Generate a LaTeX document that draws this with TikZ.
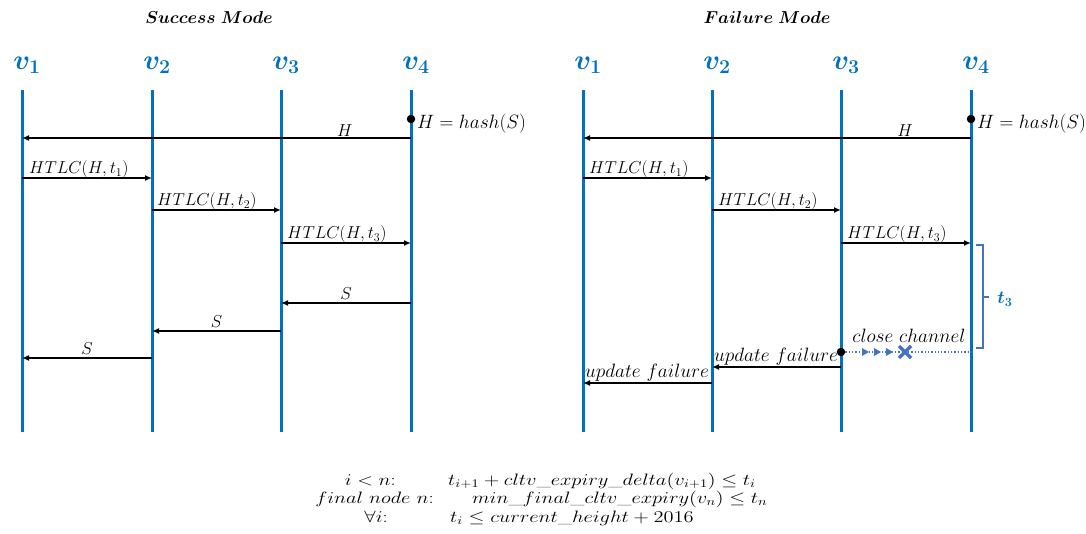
\RequirePackage{fix-cm}
\documentclass[tikz,border=0pt]{standalone}
\usepackage{amsmath,amssymb,bm,graphicx}
\usetikzlibrary{arrows.meta}
\definecolor{lifeblue}{RGB}{0,112,192}
\definecolor{softblue}{RGB}{68,114,196}
\newcommand{\wide}[1]{\scalebox{1.24}[1]{#1}}
\tikzset{
  life/.style={draw=lifeblue, line width=3pt},
  msg/.style={draw=black, line width=1.4pt, -{Latex[length=7pt,width=6pt]}},
  lbl/.style={font=\fontsize{17.28}{19}\selectfont, inner sep=1pt},
  lblw/.style={font=\fontsize{19.3}{21}\selectfont, inner sep=1pt},
  vlab/.style={text=lifeblue, font=\fontsize{28}{32}\selectfont, inner sep=0pt},
  ttl/.style={font=\fontsize{17.28}{20}\selectfont\boldmath, inner sep=0pt},
  fml/.style={font=\fontsize{16.5}{17}\selectfont, inner sep=0pt},
  dotn/.style={circle, fill=black, inner sep=0pt, minimum size=8.5pt},
}
\begin{document}
\begin{tikzpicture}[x=1pt, y=-1pt]
\useasboundingbox (0,0) rectangle (1086,533);
% titles
\node[ttl] (t1) at (209,17) {$Success\ Mode$};
\node[ttl] (t2) at (767,17) {$Failure\ Mode$};
% lifelines
\foreach \n/\x in {1/22,2/152,3/281,4/411}{
  \coordinate (La\n) at (\x,90);
  \coordinate (Lb\n) at (\x,432);
  \draw[life] (La\n) -- (Lb\n);
  \node[vlab] (Lv\n) at (\x+5,65) {$\bm{v}_{\bm{\n}}$};
}
\foreach \n/\x in {1/583,2/712,3/841,4/971}{
  \coordinate (Ra\n) at (\x,90);
  \coordinate (Rb\n) at (\x,432);
  \draw[life] (Ra\n) -- (Rb\n);
  \node[vlab] (Rv\n) at (\x+5,65) {$\bm{v}_{\bm{\n}}$};
}
% ---------- Success mode ----------
\node[dotn] (Ldot) at (411,119) {};
\node[lblw, anchor=west] (Lhash) at (416,124) {$H = hash(S)$};
\coordinate (LH4) at (411,138); \coordinate (LH1) at (22,138);
\draw[msg] (LH4) -- node[lbl, pos=0.17, above] (LHl) {$H$} (LH1);
\coordinate (LA1) at (22,178); \coordinate (LA2) at (152,178);
\draw[msg] (LA1) -- (LA2);
\node[lbl, anchor=south west] (LAl) at (28,179) {$HTLC(H,t_1)$};
\coordinate (LB2) at (152,210); \coordinate (LB3) at (281,210);
\draw[msg] (LB2) -- (LB3);
\node[lbl, anchor=south west] (LBl) at (156,211) {$HTLC(H,t_2)$};
\coordinate (LC3) at (281,243); \coordinate (LC4) at (411,243);
\draw[msg] (LC3) -- (LC4);
\node[lbl, anchor=south west] (LCl) at (286,244) {$HTLC(H,t_3)$};
\coordinate (LS4) at (411,303); \coordinate (LS3) at (281,303);
\draw[msg] (LS4) -- node[lbl, above=2pt] (LSa) {$S$} (LS3);
\coordinate (LT3) at (281,331); \coordinate (LT2) at (152,331);
\draw[msg] (LT3) -- node[lbl, above=2pt] (LSb) {$S$} (LT2);
\coordinate (LU2) at (152,358); \coordinate (LU1) at (22,358);
\draw[msg] (LU2) -- node[lbl, above=2pt] (LSc) {$S$} (LU1);
% ---------- Failure mode ----------
\node[dotn] (Rdot) at (971,119) {};
\node[lblw, anchor=west] (Rhash) at (976,124) {$H = hash(S)$};
\coordinate (RH4) at (971,138); \coordinate (RH1) at (583,138);
\draw[msg] (RH4) -- node[lbl, pos=0.17, above] (RHl) {$H$} (RH1);
\coordinate (RA1) at (583,178); \coordinate (RA2) at (712,178);
\draw[msg] (RA1) -- (RA2);
\node[lbl, anchor=south west] (RAl) at (588,179) {$HTLC(H,t_1)$};
\coordinate (RB2) at (712,210); \coordinate (RB3) at (841,210);
\draw[msg] (RB2) -- (RB3);
\node[lbl, anchor=south west] (RBl) at (717,211) {$HTLC(H,t_2)$};
\coordinate (RC3) at (841,243); \coordinate (RC4) at (971,243);
\draw[msg] (RC3) -- (RC4);
\node[lbl, anchor=south west] (RCl) at (846,244) {$HTLC(H,t_3)$};
% brace
\draw[softblue, line width=1.2pt] (976,245) -- (983,245) -- (983,348) -- (976,348);
\draw[softblue, line width=1.2pt] (983,297) -- (989,297);
\node[text=lifeblue, font=\fontsize{18}{20}\selectfont, inner sep=0pt] (t3l) at (1005,299) {$\bm{t_3}$};
% close channel
\node[dotn] (Rdot2) at (841,352) {};
\coordinate (Rend) at (971,352);
\draw[softblue, line width=1.3pt, dotted] (Rdot2) -- (Rend);
\foreach \xx in {866,878,890}{
  \fill[softblue] (\xx-4,348) -- (\xx+3,352) -- (\xx-4,356) -- cycle;
}
\draw[softblue, line width=3.5pt] (899,346) -- (911,358) (899,358) -- (911,346);
\node[lblw, anchor=south] (Rcc) at (909,344) {$close\ channel$};
% update failure
\coordinate (RF3) at (841,367); \coordinate (RF2) at (712,367);
\draw[msg] (RF3) -- (RF2);
\node[lblw, anchor=south west] (RFl) at (713,366) {$update\ failure$};
\coordinate (RG2) at (712,383); \coordinate (RG1) at (583,383);
\draw[msg] (RG2) -- (RG1);
\node[lblw, anchor=south west] (RGl) at (584,382) {$update\ failure$};
% formulas
\node[fml, anchor=base east] (f1a) at (396,485) {\wide{$i < n$:}};
\node[fml, anchor=base west] (f1b) at (448,485) {\wide{$t_{i+1} + cltv\_expiry\_delta(v_{i+1}) \le t_i$}};
\node[fml, anchor=base east] (f2a) at (434,503.5) {\wide{$final\ node\ n$:}};
\node[fml, anchor=base west] (f2b) at (472,503.5) {\wide{$min\_final\_cltv\_expiry(v_n) \le t_n$}};
\node[fml, anchor=base east] (f3a) at (388,522.5) {\wide{$\forall i$:}};
\node[fml, anchor=base west] (f3b) at (450,522.5) {\wide{$t_i \le current\_height + 2016$}};
\end{tikzpicture}
\end{document}
